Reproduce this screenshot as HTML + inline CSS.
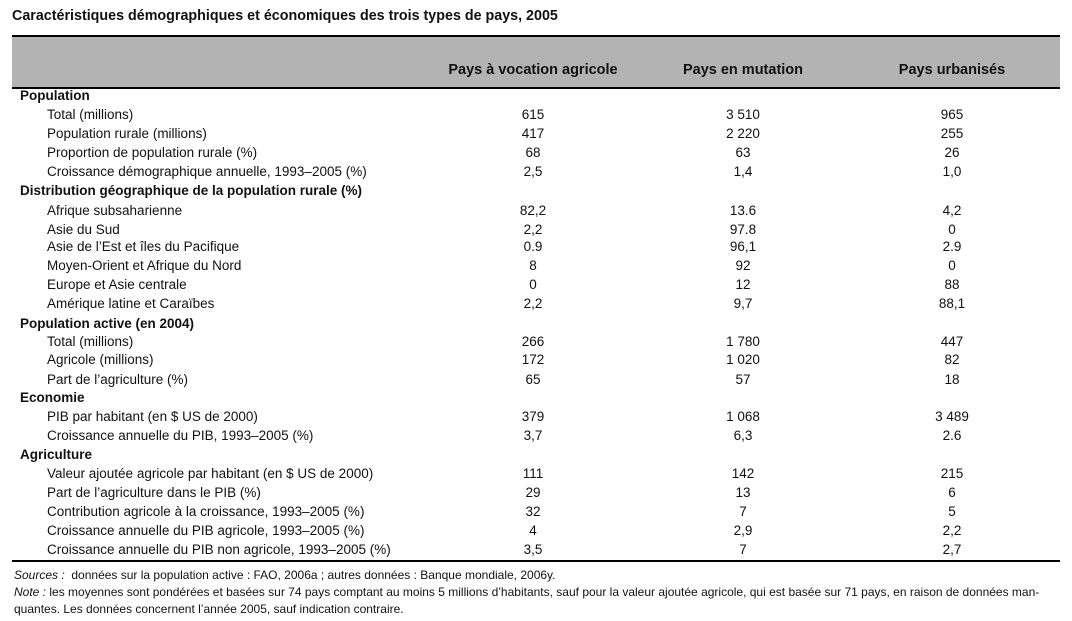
<!DOCTYPE html>
<html><head><meta charset="utf-8"><style>
body{margin:0;width:1072px;height:621px;background:#fff;position:relative;font-family:"Liberation Sans Narrow","Liberation Sans",sans-serif;color:#111;overflow:hidden}
.t{position:absolute;white-space:nowrap;font-size:13.5px;line-height:16px}
.b{font-weight:bold}
.c{transform:translateX(-50%)}
</style></head><body>
<div class="t b" style="left:12px;top:8px;font-size:14.3px">Caractéristiques démographiques et économiques des trois types de pays, 2005</div>
<div style="position:absolute;left:12px;top:35px;width:1048px;height:50px;background:#b3b3b3;border-top:2px solid #000;border-bottom:2px solid #000"></div>
<div class="t b c" style="left:533px;top:62px;font-size:14.5px">Pays à vocation agricole</div>
<div class="t b c" style="left:743px;top:62px;font-size:14.5px">Pays en mutation</div>
<div class="t b c" style="left:952px;top:62px;font-size:14.5px">Pays urbanisés</div>
<div id="rows"></div>
<div style="position:absolute;left:12px;top:560px;width:1048px;height:2px;background:#000"></div>
<div class="t" style="left:14px;top:567px;font-size:12px"><i>Sources :</i> &nbsp;données sur la population active : FAO, 2006a ; autres données : Banque mondiale, 2006y.</div>
<div class="t" style="left:14px;top:584px;font-size:12px"><i>Note :</i> les moyennes sont pondérées et basées sur 74 pays comptant au moins 5 millions d’habitants, sauf pour la valeur ajoutée agricole, qui est basée sur 71 pays, en raison de données man-</div>
<div class="t" style="left:14px;top:601px;font-size:12px">quantes. Les données concernent l’année 2005, sauf indication contraire.</div>
<script>
var R=[["Population",1,86],["Total (millions)",0,105,"615","3 510","965"],["Population rurale (millions)",0,124,"417","2 220","255"],["Proportion de population rurale (%)",0,143,"68","63","26"],["Croissance démographique annuelle, 1993–2005 (%)",0,162,"2,5","1,4","1,0"],["Distribution géographique de la population rurale (%)",1,181],["Afrique subsaharienne",0,201,"82,2","13.6","4,2"],["Asie du Sud",0,220,"2,2","97.8","0"],["Asie de l’Est et îles du Pacifique",0,237,"0.9","96,1","2.9"],["Moyen-Orient et Afrique du Nord",0,256,"8","92","0"],["Europe et Asie centrale",0,275,"0","12","88"],["Amérique latine et Caraïbes",0,294,"2,2","9,7","88,1"],["Population active (en 2004)",1,314],["Total (millions)",0,332,"266","1 780","447"],["Agricole (millions)",0,350,"172","1 020","82"],["Part de l’agriculture (%)",0,370,"65","57","18"],["Economie",1,388],["PIB par habitant (en $ US de 2000)",0,407,"379","1 068","3 489"],["Croissance annuelle du PIB, 1993–2005 (%)",0,426,"3,7","6,3","2.6"],["Agriculture",1,445],["Valeur ajoutée agricole par habitant (en $ US de 2000)",0,464,"111","142","215"],["Part de l’agriculture dans le PIB (%)",0,483,"29","13","6"],["Contribution agricole à la croissance, 1993–2005 (%)",0,502,"32","7","5"],["Croissance annuelle du PIB agricole, 1993–2005 (%)",0,521,"4","2,9","2,2"],["Croissance annuelle du PIB non agricole, 1993–2005 (%)",0,540,"3,5","7","2,7"]];
var h="",X=[533,743,952];
R.forEach(function(r){var y=r[2]+2;h+='<div class="t'+(r[1]?' b':'')+'" style="left:'+(r[1]?20:47)+'px;top:'+y+'px">'+r[0]+'</div>';
if(!r[1])for(var i=0;i<3;i++)h+='<div class="t c" style="left:'+X[i]+'px;top:'+y+'px">'+r[3+i]+'</div>';});
document.getElementById("rows").innerHTML=h;
</script>
</body></html>
